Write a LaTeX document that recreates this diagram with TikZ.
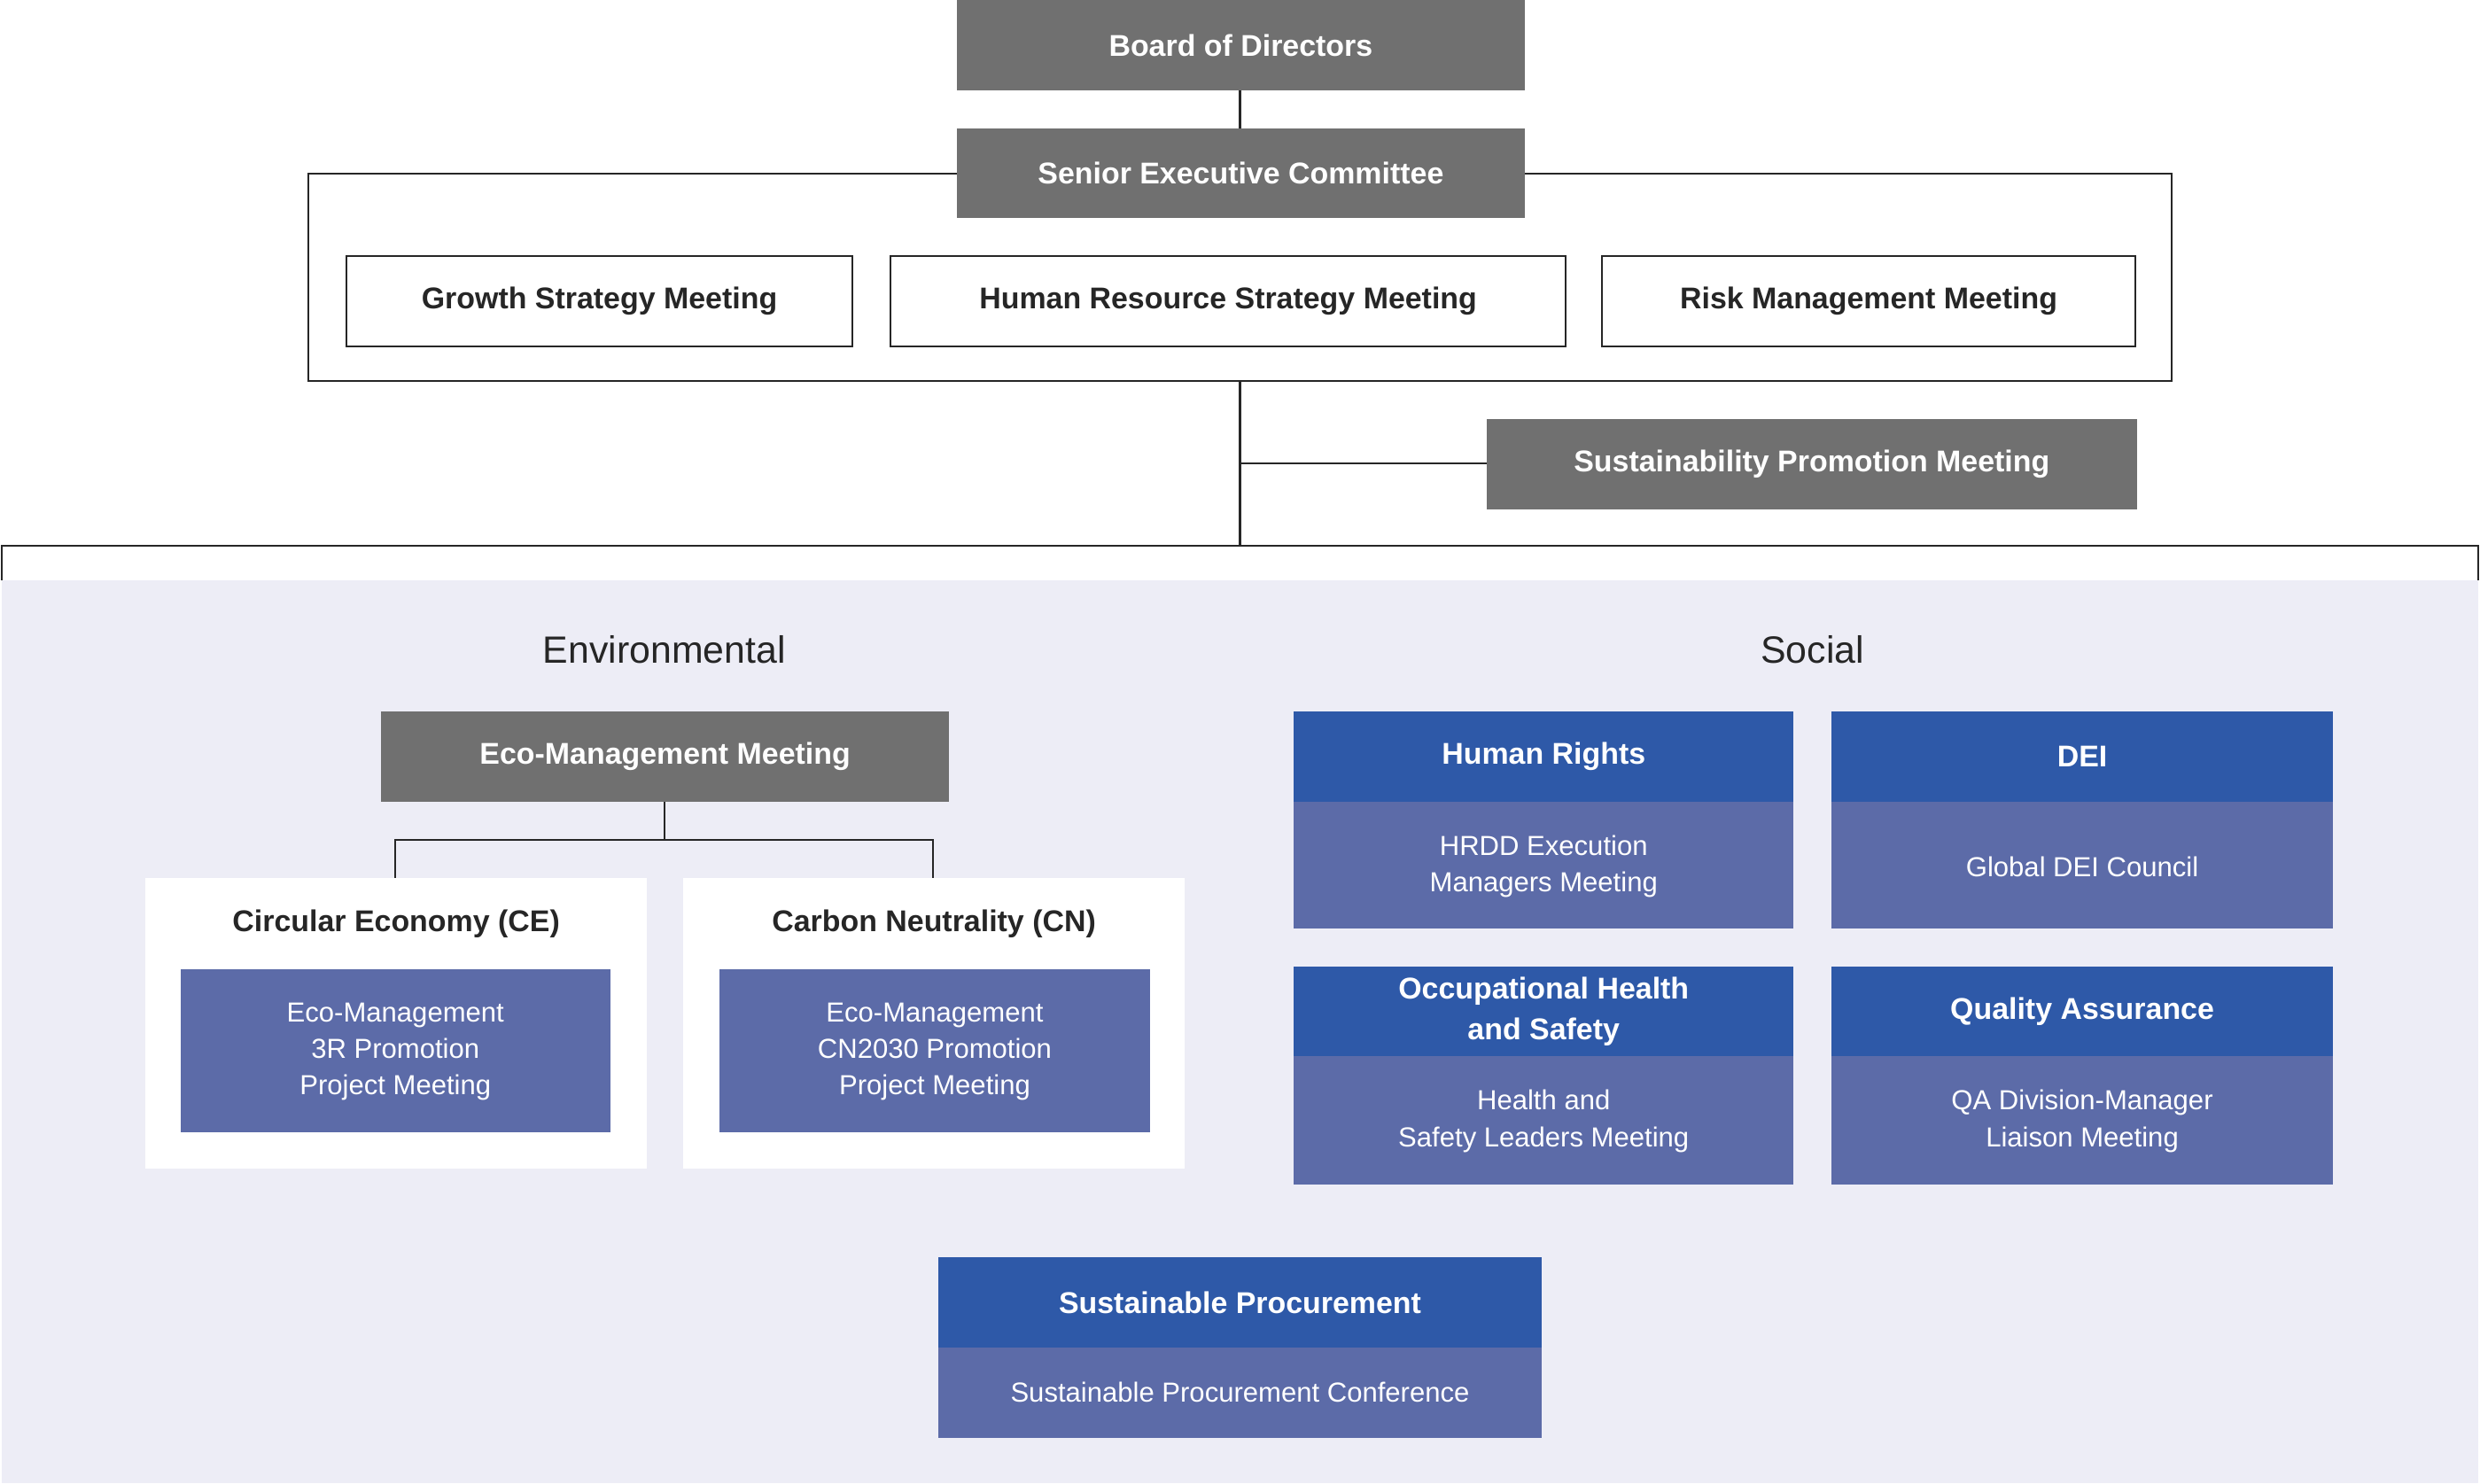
\documentclass[tikz,border=0pt]{standalone}
\usepackage{fontspec}
\setmainfont{Liberation Sans}
\definecolor{gbox}{HTML}{707070}
\definecolor{hblue}{HTML}{2E59A8}
\definecolor{bblue}{HTML}{5C6BA8}
\definecolor{bg}{HTML}{EDEDF6}
\begin{document}
\begin{tikzpicture}[x=0.5pt,y=-0.5pt,
  lin/.style={draw=black!85,line width=0.6pt},
  gray/.style={fill=gbox,text=white,font=\fontsize{9.5}{11.5}\selectfont\bfseries},
  wbox/.style={draw=black!85,line width=0.6pt,fill=white,text=black!85,font=\fontsize{9.5}{11.5}\selectfont\bfseries},
  hdr/.style={fill=hblue,text=white,font=\fontsize{9.5}{11.5}\selectfont\bfseries,align=center},
  bdy/.style={fill=bblue,text=white,font=\fontsize{8.7}{11.6}\selectfont,align=center}]
\useasboundingbox (0,0) rectangle (1568,938);
\fill[bg] (1,367) rectangle (1567,938);
% top
\draw[lin] (195,110) rectangle (1373,241);
\draw[lin] (784,57) -- (784,81);
\fill[gbox] (605,0) rectangle (964,57); \node[gray] (bod) at (784.5,28.5) {Board of Directors};
\fill[gbox] (605,81) rectangle (964,138); \node[gray] (sec) at (784.5,109.5) {Senior Executive Committee};
\draw[wbox] (219,162) rectangle (539,219); \node[wbox,draw=none,fill=none] (g) at (379,190.5) {Growth Strategy Meeting};
\draw[wbox] (563,162) rectangle (990,219); \node[wbox,draw=none,fill=none] (h) at (776.5,190.5) {Human Resource Strategy Meeting};
\draw[wbox] (1013,162) rectangle (1350,219); \node[wbox,draw=none,fill=none] (r) at (1181.5,190.5) {Risk Management Meeting};
\draw[lin] (784,241) -- (784,345);
\draw[lin] (784,293) -- (940,293);
\fill[gbox] (940,265) rectangle (1351,322); \node[gray] (spm) at (1145.5,293.5) {Sustainability Promotion Meeting};
\draw[lin] (1,367) -- (1,345) -- (1567,345) -- (1567,367);
% env
\node[font=\fontsize{12}{14}\selectfont,text=black!85] (env) at (420,411) {Environmental};
\node[font=\fontsize{12}{14}\selectfont,text=black!85] (soc) at (1146,411) {Social};
\fill[gbox] (241,450) rectangle (600,507); \node[gray] (eco) at (420.5,478.5) {Eco-Management Meeting};
\draw[lin] (420,507) -- (420,531) (250,555) -- (250,531) -- (590,531) -- (590,555);
\fill[white] (92,555) rectangle (409,739); \fill[white] (432,555) rectangle (749,739);
\node[font=\fontsize{9.5}{11.5}\selectfont\bfseries,text=black!85] (ce) at (250.5,584) {Circular Economy (CE)};
\node[font=\fontsize{9.5}{11.5}\selectfont\bfseries,text=black!85] (cn) at (590.5,584) {Carbon Neutrality (CN)};
\fill[bblue] (114,613) rectangle (386,716); \node[bdy] (ce1) at (250,665) {Eco-Management\\3R Promotion\\Project Meeting};
\fill[bblue] (455,613) rectangle (727,716); \node[bdy] (cn1) at (591,665) {Eco-Management\\CN2030 Promotion\\Project Meeting};
% social
\fill[hblue] (818,450) rectangle (1134,507); \fill[bblue] (818,507) rectangle (1134,587);
\node[hdr] (hr) at (976,478.5) {Human Rights};
\node[bdy] (hr1) at (976,548) {HRDD Execution\\Managers Meeting};
\fill[hblue] (1158,450) rectangle (1475,507); \fill[bblue] (1158,507) rectangle (1475,587);
\node[hdr] (dei) at (1316.5,478.5) {DEI};
\node[bdy] (dei1) at (1316.5,548) {Global DEI Council};
\fill[hblue] (818,611) rectangle (1134,668); \fill[bblue] (818,668) rectangle (1134,749);
\node[hdr,font=\fontsize{9.5}{12.8}\selectfont\bfseries] (ohs) at (976,639.5) {Occupational Health\\and Safety};
\node[bdy] (ohs1) at (976,709) {Health and\\Safety Leaders Meeting};
\fill[hblue] (1158,611) rectangle (1475,668); \fill[bblue] (1158,668) rectangle (1475,749);
\node[hdr] (qa) at (1316.5,639.5) {Quality Assurance};
\node[bdy] (qa1) at (1316.5,709) {QA Division-Manager\\Liaison Meeting};
\fill[hblue] (593,795) rectangle (975,852); \fill[bblue] (593,852) rectangle (975,909);
\node[hdr] (sp) at (784,823.5) {Sustainable Procurement};
\node[bdy] (sp1) at (784,880.5) {Sustainable Procurement Conference};
\end{tikzpicture}
\end{document}
